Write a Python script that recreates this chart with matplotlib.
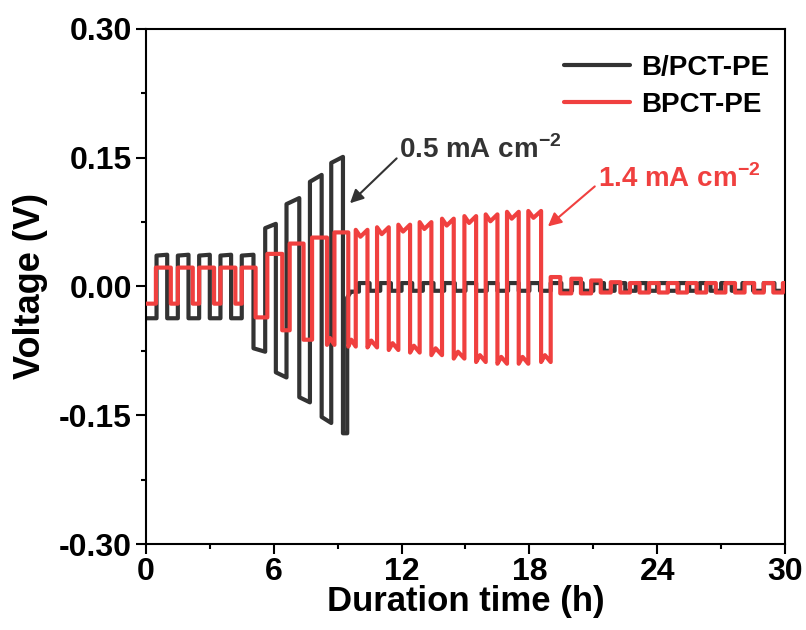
import matplotlib
matplotlib.use("Agg")
import matplotlib.pyplot as plt
from matplotlib.ticker import MultipleLocator, FormatStrFormatter

# ======================================
# FUENTES
# ======================================

plt.rcParams["font.family"] = ["Liberation Sans", "DejaVu Sans"]
plt.rcParams["font.weight"] = "bold"
plt.rcParams["mathtext.fontset"] = "custom"
plt.rcParams["mathtext.rm"] = "Liberation Sans:bold"
plt.rcParams["mathtext.bf"] = "Liberation Sans:bold"
plt.rcParams["axes.unicode_minus"] = False

# ======================================
# DATOS: B/PCT-PE (tiempo de inicio de cada tramo, V al inicio, V al final)
# ======================================

black_t = [
    0.0, 0.5, 1.0, 1.5, 2.0, 2.5, 3.0, 3.5, 4.0, 4.5,
    5.05, 5.6, 6.1, 6.6, 7.2, 7.7, 8.25, 8.7, 9.25, 9.45, 9.6,
    10.0, 10.5, 11.0, 11.5, 12.0, 12.5, 13.0, 13.5, 14.0, 14.5,
    15.0, 15.5, 16.0, 16.5, 17.0, 17.5, 18.0, 18.5, 19.0, 19.5,
    20.0, 20.5, 21.0, 21.5, 22.0, 22.5, 23.0, 23.5, 24.0, 24.5,
    25.0, 25.5, 26.0, 26.5, 27.0, 27.5, 28.0, 28.5, 29.0, 29.5,
]
black_v0 = [
    -0.037, 0.036, -0.037, 0.036, -0.037, 0.036, -0.037, 0.036, -0.037, 0.036,
    -0.072, 0.068, -0.100, 0.096, -0.129, 0.122, -0.152, 0.144, -0.171, -0.013, -0.006,
    0.004, -0.005, 0.004, -0.005, 0.004, -0.005, 0.004, -0.005, 0.004, -0.005,
    0.004, -0.005, 0.004, -0.005, 0.004, -0.005, 0.004, -0.005, 0.004, -0.005,
    0.004, -0.005, 0.004, -0.005, 0.004, -0.005, 0.004, -0.005, 0.004, -0.005,
    0.004, -0.005, 0.004, -0.005, 0.004, -0.005, 0.004, -0.005, 0.004, -0.005,
]
black_v1 = [
    -0.037, 0.037, -0.037, 0.037, -0.037, 0.037, -0.037, 0.037, -0.037, 0.037,
    -0.076, 0.073, -0.106, 0.103, -0.135, 0.130, -0.159, 0.151, -0.171, -0.007, -0.006,
    0.004, -0.005, 0.004, -0.005, 0.004, -0.005, 0.004, -0.005, 0.004, -0.005,
    0.004, -0.005, 0.004, -0.005, 0.004, -0.005, 0.004, -0.005, 0.004, -0.005,
    0.004, -0.005, 0.004, -0.005, 0.004, -0.005, 0.004, -0.005, 0.004, -0.005,
    0.004, -0.005, 0.004, -0.005, 0.004, -0.005, 0.004, -0.005, 0.004, -0.005,
]

# ======================================
# DATOS: BPCT-PE (tiempo de inicio de cada tramo, V del tramo)
# ======================================

red_t = [
    0.0, 0.47, 1.17, 1.5, 2.2, 2.5, 3.2, 3.5, 4.2, 4.5,
    5.15, 5.7, 6.4, 6.75, 7.4, 7.8, 8.5, 8.85, 9.5, 9.85,
    10.4, 10.85, 11.4, 11.85, 12.4, 12.85, 13.4, 13.9, 14.45, 14.95,
    15.5, 15.95, 16.5, 16.95, 17.5, 17.95, 18.55,
    19.0, 19.45, 19.97, 20.42, 20.9, 21.35, 21.82, 22.27, 22.72, 23.17,
    23.62, 24.07, 24.5, 24.95, 25.4, 25.85, 26.3, 26.75, 27.2, 27.65,
    28.1, 28.55, 29.0, 29.45, 29.9,
]
red_v = [
    -0.020, 0.022, -0.020, 0.022, -0.020, 0.022, -0.020, 0.022, -0.020, 0.022,
    -0.036, 0.038, -0.051, 0.050, -0.062, 0.057, -0.068, 0.063, -0.070, 0.066,
    -0.071, 0.069, -0.074, 0.072, -0.077, 0.075, -0.080, 0.079, -0.084, 0.082,
    -0.088, 0.084, -0.090, 0.087, -0.090, 0.088, -0.088,
    0.011, -0.008, 0.009, -0.008, 0.007, -0.007, 0.005, -0.007, 0.004, -0.007,
    0.004, -0.007, 0.004, -0.007, 0.004, -0.007, 0.004, -0.007, 0.004, -0.007,
    0.004, -0.007, 0.004, -0.007, 0.004,
]

T_END = 30.0
RED_DIP = 0.008          # hundimiento en medio de cada meseta a alta corriente
RED_DIP_FROM = 0.064

BLACK = "#333333"
RED = "#f0403f"


def trace(t, v0, v1, t_end, dip=0.0, dip_from=1.0):
    xs, ys = [], []
    for i, t0 in enumerate(t):
        t1 = t[i + 1] if i + 1 < len(t) else t_end
        xs.append(t0)
        ys.append(v0[i])
        if abs(v0[i]) >= dip_from:
            sign = 1 if v0[i] > 0 else -1
            xs.append(t0 + 0.4 * (t1 - t0))
            ys.append(v0[i] - sign * dip)
        xs.append(t1)
        ys.append(v1[i])
    return xs, ys


bx, by = trace(black_t, black_v0, black_v1, T_END)
rx, ry = trace(red_t, red_v, red_v, T_END, RED_DIP, RED_DIP_FROM)

# ======================================
# FIGURA
# ======================================

fig = plt.figure(figsize=(8.06, 6.3), dpi=100)
ax = fig.add_axes([0.181, 0.1365, 0.793, 0.8175])

ax.plot(bx, by, color=BLACK, lw=3.0, solid_joinstyle="round",
        solid_capstyle="round", label="B/PCT-PE", zorder=2)
ax.plot(rx, ry, color=RED, lw=3.0, solid_joinstyle="round",
        solid_capstyle="round", label="BPCT-PE", zorder=3)

ax.set_xlim(0, 30)
ax.set_ylim(-0.30, 0.30)
ax.xaxis.set_major_locator(MultipleLocator(6))
ax.xaxis.set_minor_locator(MultipleLocator(3))
ax.yaxis.set_major_locator(MultipleLocator(0.15))
ax.yaxis.set_minor_locator(MultipleLocator(0.075))
ax.yaxis.set_major_formatter(FormatStrFormatter("%.2f"))

for side in ["left", "bottom", "top", "right"]:
    ax.spines[side].set_linewidth(1.5)

ax.tick_params(which="both", direction="out", width=1.5,
               top=False, right=False, labelsize=23)
ax.tick_params(which="major", length=7)
ax.tick_params(which="minor", length=3.5)
ax.tick_params(axis="y", pad=3)
ax.tick_params(axis="x", pad=2)

ax.set_xlabel("Duration time (h)", fontsize=25, fontweight="bold", labelpad=-1)
ax.set_ylabel("Voltage (V)", fontsize=26, fontweight="bold", labelpad=8)

ax.legend(loc="upper right", bbox_to_anchor=(0.993, 0.972), borderaxespad=0,
          frameon=False, fontsize=20, handlelength=2.4, handletextpad=0.4,
          labelspacing=0.4)

ax.annotate("0.5 mA cm$^{\\mathbf{-2}}$", xy=(9.58, 0.097), xytext=(11.9, 0.159),
            fontsize=20, fontweight="bold", color=BLACK, va="center", ha="left",
            arrowprops=dict(arrowstyle="-|>", color=BLACK, lw=1.5,
                            mutation_scale=20, shrinkA=0, shrinkB=0,
                            relpos=(0, 0.3)))
ax.annotate("1.4 mA cm$^{\\mathbf{-2}}$", xy=(18.87, 0.070), xytext=(21.2, 0.126),
            fontsize=20, fontweight="bold", color=RED, va="center", ha="left",
            arrowprops=dict(arrowstyle="-|>", color=RED, lw=1.5,
                            mutation_scale=20, shrinkA=0, shrinkB=0,
                            relpos=(0, 0.3)))

fig.savefig("out.png", dpi=100)
